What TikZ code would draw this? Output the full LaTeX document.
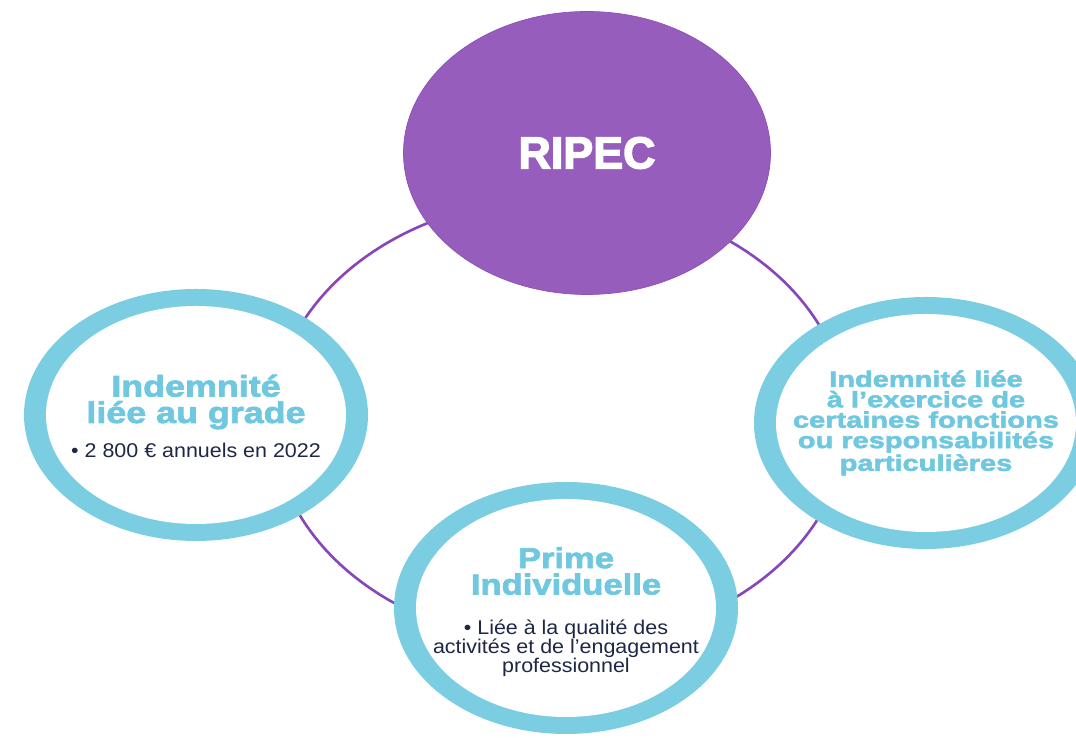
\documentclass[tikz,border=0pt]{standalone}
\usepackage{fontspec}
\setmainfont{Liberation Sans}
\newfontfamily\headfont[FakeStretch=1.2, BoldFeatures={FakeBold=2.5}]{Liberation Sans}
\newfontfamily\widefont[FakeStretch=1.3, BoldFeatures={FakeBold=2.5}]{Liberation Sans}
\newfontfamily\blackfont[BoldFeatures={FakeBold=3}]{Liberation Sans}
\newfontfamily\bodyfont[FakeStretch=1.08]{Liberation Sans}
\usepackage{tikz}
\usetikzlibrary{shapes.geometric, positioning}

\definecolor{RipecPurple}{RGB}{150, 93, 188}
\definecolor{LinkPurple}{RGB}{136, 70, 188}
\definecolor{RingBlue}{RGB}{123, 206, 226}
\definecolor{TitleBlue}{RGB}{112, 200, 224}
\definecolor{InkNavy}{RGB}{30, 40, 70}

\begin{document}
\begin{tikzpicture}[
    every node/.style={align=center, inner sep=0pt},
    ringout/.style={ellipse, fill=RingBlue, minimum width=6.88cm, minimum height=5.04cm},
    ringin/.style={ellipse, fill=white, minimum width=6.0cm, minimum height=4.36cm},
    headline/.style={text=TitleBlue, font=\headfont\bfseries\fontsize{17}{15}\selectfont},
    bodytext/.style={text=InkNavy, font=\bodyfont\fontsize{11.3}{10.8}\selectfont}
]
\useasboundingbox (0,0) rectangle (21.52,14.76);
% the loop that links the four parts
\node[ellipse, draw=LinkPurple, line width=1.5pt,
      minimum width=11.48cm, minimum height=8.92cm] (loop) at (11.20,6.34) {};
\node[ellipse, fill=RipecPurple, draw=LinkPurple!60!RipecPurple,
      minimum width=7.34cm, minimum height=5.66cm, text=white,
      font=\blackfont\bfseries\fontsize{25.5}{28}\selectfont] (ripec) at (11.74,11.70) {RIPEC};

\node[ringout] (grade) at (3.92,6.46) {};
\node[ringin] (gradeIn) at (grade) {};
\node[headline] (gradeT) at ([yshift=0.26cm]grade.center) {Indemnité\\liée au grade};
\node[bodytext] (gradeB) at ([yshift=-0.70cm]grade.center) {• 2~800~€ annuels en 2022};

\node[ringout] (fonctions) at (18.52,6.30) {};
\node[ringin] (fonctionsIn) at (fonctions) {};
\node[headline, font=\widefont\bfseries\fontsize{12.7}{11.6}\selectfont]
    (fonctionsT) at (fonctions.center)
    {Indemnité liée\\à l’exercice de\\certaines fonctions\\ou responsabilités\\particulières};

\node[ringout] (prime) at (11.32,2.60) {};
\node[ringin] (primeIn) at (prime) {};
\node[headline, font=\headfont\bfseries\fontsize{16.4}{15}\selectfont]
    (primeT) at ([yshift=0.74cm]prime.center) {Prime\\Individuelle};
\node[bodytext] (primeB) at ([yshift=-0.81cm]prime.center)
    {• Liée à la qualité des\\activités et de l’engagement\\professionnel};
\end{tikzpicture}
\end{document}
